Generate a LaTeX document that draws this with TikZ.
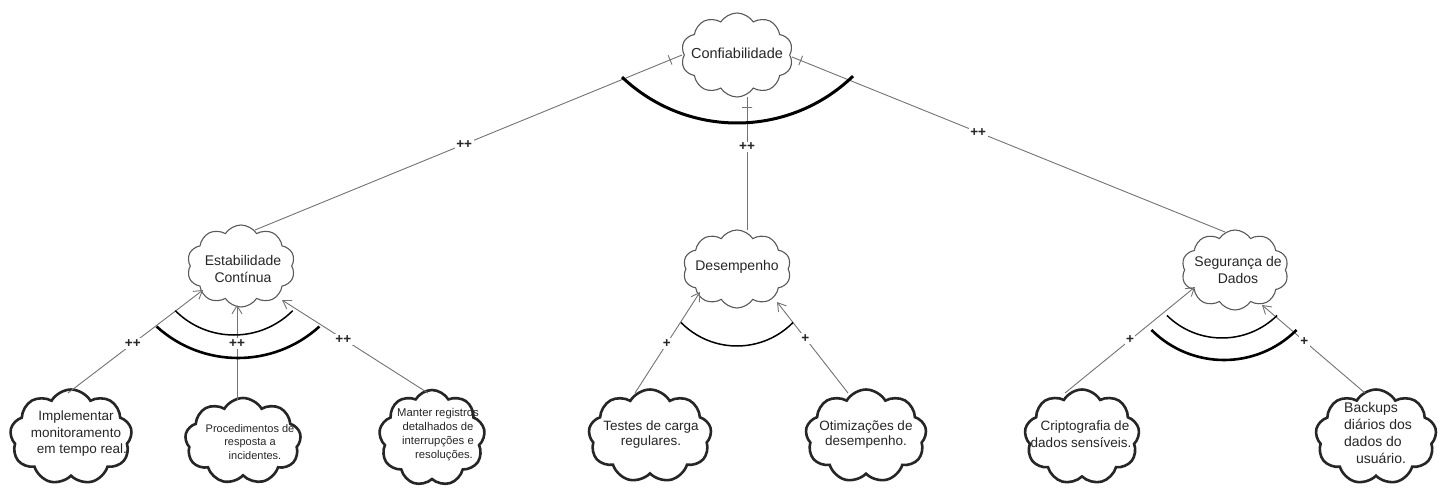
\documentclass[tikz,border=0pt]{standalone}
\usepackage{fontspec}
\setmainfont{Liberation Sans}
\usetikzlibrary{shapes.symbols,arrows.meta,calc}
\begin{document}
\begin{tikzpicture}[x=1pt,y=-1pt,
  upcloud/.style={cloud, cloud puffs=10, cloud puff arc=115, cloud ignores aspect, draw=black!65, line width=1.1pt, inner sep=0pt, fill=white},
  lowcloud/.style={cloud, cloud puffs=9, cloud puff arc=120, cloud ignores aspect, draw=black!85, line width=2.6pt, inner sep=0pt, fill=white},
  txt/.style={align=center, font=\fontsize{14}{16.5}\selectfont, inner sep=0pt, text=black!85},
  smalltxt/.style={align=center, font=\fontsize{11.3}{14}\selectfont, inner sep=0pt, text=black!85},
  conn/.style={draw=black!55, line width=0.9pt},
  arr/.style={conn, -{Straight Barb[length=8pt,width=10pt]}},
  sign/.style={fill=white, inner sep=1.5pt, text=black!85, font=\bfseries\fontsize{13.5}{13.5}\selectfont},
  tick/.style={draw=black!55, line width=0.9pt, minimum width=0pt, minimum height=10pt, inner sep=0pt, sloped, shape=rectangle},
  arcthin/.style={draw=black, line width=1.5pt},
  arcthick/.style={draw=black, line width=2.6pt},
]
\fill[white] (0,0) rectangle (1440,495);
\useasboundingbox (0,0) rectangle (1440,495);

% clouds
\node[upcloud, minimum width=112pt, minimum height=84pt] (conf) at (737,55) {};
\node[upcloud, minimum width=108pt, minimum height=82pt] (est) at (241,266) {};
\node[upcloud, minimum width=108pt, minimum height=78pt] (des) at (737,269) {};
\node[upcloud, minimum width=107pt, minimum height=80pt] (seg) at (1235,270) {};
\node[lowcloud, minimum width=122pt, minimum height=95pt] (imp) at (71,437) {};
\node[lowcloud, minimum width=116pt, minimum height=86pt] (proc) at (243,441) {};
\node[lowcloud, minimum width=106pt, minimum height=96pt] (man) at (432,438) {};
\node[lowcloud, minimum width=123pt, minimum height=93pt] (tes) at (650,436) {};
\node[lowcloud, minimum width=121pt, minimum height=93pt] (oti) at (866,436) {};
\node[lowcloud, minimum width=115pt, minimum height=95pt] (cri) at (1082,437) {};
\node[lowcloud, minimum width=121pt, minimum height=95pt] (bac) at (1376,437) {};

% texts
\node[txt, font=\fontsize{14.5}{16.5}\selectfont] (conf-t) at (737,53) {Confiabilidade};
\node[txt] (est-t) at (243,269) {Estabilidade\\Contínua};
\node[txt] (des-t) at (737,267) {Desempenho};
\node[txt] (seg-t) at (1238,270) {Segurança de\\Dados};
\node[txt, font=\fontsize{13.5}{16.5}\selectfont] (imp-t) at (76,434) {Implementar\\monitoramento\\\hspace*{12pt}em tempo real.};
\node[smalltxt, font=\fontsize{11}{13.5}\selectfont] (proc-t) at (250,442) {Procedimentos de\\resposta a\\\hspace*{10pt}incidentes.};
\node[smalltxt] (man-t) at (438,435) {Manter registros\\detalhados de\\interrupções e\\\hspace*{12pt}resoluções.};
\node[txt, font=\fontsize{13.5}{15}\selectfont] (tes-t) at (651,435) {Testes de carga\\regulares.};
\node[txt, font=\fontsize{13.5}{15}\selectfont] (oti-t) at (866,435) {Otimizações de\\desempenho.};
\node[txt, font=\fontsize{13.5}{16.5}\selectfont] (cri-t) at (1081,434) {\hspace*{8pt}Criptografia de\\dados sensíveis.};
\node[txt, align=left, font=\fontsize{14}{16.7}\selectfont] (bac-t) at (1378,433) {Backups\\diários dos\\dados do\\\hspace*{12pt}usuário.};

% connectors to the top goal
\draw[conn] ([shift={(14,-36)}]est.center) -- node[sign,pos=0.49]{++} node[tick,pos=0.972]{} ([shift={(-55,0)}]conf.center);
\draw[conn] ([shift={(10,-39)}]des.center) -- node[sign,pos=0.624]{++} node[tick,pos=0.925]{} ([shift={(10,42)}]conf.center);
\draw[conn] ([shift={(-10,-38)}]seg.center) -- node[sign,pos=0.57]{++} node[tick,pos=0.98]{} ([shift={(55,2)}]conf.center);

% connectors to sub goals
\draw[arr] ([shift={(-3,-44)}]imp.center) -- node[sign,pos=0.48]{++} ([shift={(-38,24)}]est.center);
\draw[arr] ([shift={(-6,-41)}]proc.center) -- node[sign,pos=0.59]{++} ([shift={(-4,39)}]est.center);
\draw[arr] ([shift={(-4,-45)}]man.center) -- node[sign,pos=0.58]{++} ([shift={(41,34)}]est.center);
\draw[arr] ([shift={(-15,-43)}]tes.center) -- node[sign,pos=0.49]{+} ([shift={(-37,23)}]des.center);
\draw[arr] ([shift={(-18,-43)}]oti.center) -- node[sign,pos=0.6]{+} ([shift={(40,33)}]des.center);
\draw[arr] ([shift={(-17,-44)}]cri.center) -- node[sign,pos=0.5]{+} ([shift={(-40,17)}]seg.center);
\draw[arr] ([shift={(-11,-44)}]bac.center) -- node[sign,pos=0.59]{+} ([shift={(27,35)}]seg.center);

% arcs
\draw[line width=3pt] (737,-44) ++(133.5:167) arc[start angle=133.5, end angle=46, radius=167];
\draw[arcthin] (234,252) ++(135:83) arc[start angle=135, end angle=45, radius=83];
\draw[arcthick] (238,237) ++(132.3:121) arc[start angle=132.3, end angle=47.7, radius=121];
\draw[arcthin] (737,267.5) ++(135.5:78.5) arc[start angle=135.5, end angle=44.5, radius=78.5];
\draw[arcthin] (1222,259.5) ++(134.5:78.5) arc[start angle=134.5, end angle=45.5, radius=78.5];
\draw[arcthick] (1224,257.4) ++(135:102.6) arc[start angle=135, end angle=45, radius=102.6];
\end{tikzpicture}
\end{document}
